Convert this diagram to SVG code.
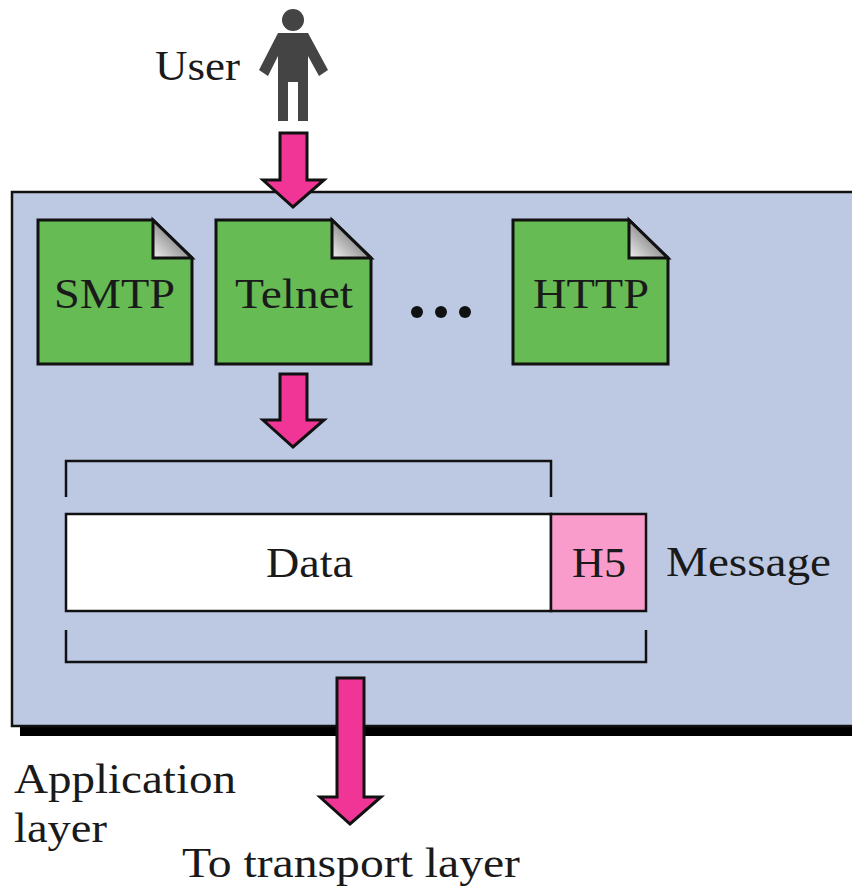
<svg xmlns="http://www.w3.org/2000/svg" width="852" height="890" viewBox="0 0 852 890">
<defs>
<linearGradient id="foldGrad" x1="0" y1="1" x2="1" y2="0"><stop offset="0" stop-color="#f0f0f0"/><stop offset="0.75" stop-color="#6e6e6e"/><stop offset="1" stop-color="#555"/></linearGradient>
</defs>
<style>
text{font-family:"Liberation Serif","DejaVu Serif",serif;font-size:43px;fill:#1a1a1a}
.arrow{fill:#f03597;stroke:#111;stroke-width:3}
.doc{fill:#66bb55;stroke:#111;stroke-width:3}
.fold{fill:url(#foldGrad);stroke:#111;stroke-width:3}
.br{fill:none;stroke:#111;stroke-width:2.5}
</style>
<rect width="852" height="890" fill="#fff"/>
<g id="layer">
<rect x="20" y="200" width="832" height="536" fill="#000"/>
<rect x="12" y="192" width="842" height="534" fill="#bdc9e3" stroke="#111" stroke-width="2.5"/>
</g>
<g id="user">
<circle cx="293" cy="20" r="11" fill="#444"/>
<path d="M278 33H308L328 70L319 76L308 56V121H298V82H288V121H278V56L268 76L259 70Z" fill="#444"/>
<text x="155" y="80" textLength="85" lengthAdjust="spacingAndGlyphs">User</text>
</g>
<g id="smtp"><path class="doc" d="M38 220H153L192 258V364H38Z"/><path class="fold" d="M153 220L192 258H153Z"/><text x="54" y="308" textLength="121" lengthAdjust="spacingAndGlyphs">SMTP</text></g>
<g id="telnet"><path class="doc" d="M216 220H332L371 258V364H216Z"/><path class="fold" d="M332 220L371 258H332Z"/><text x="235" y="308" textLength="118" lengthAdjust="spacingAndGlyphs">Telnet</text></g>
<g id="dots"><circle cx="417" cy="312" r="6" fill="#111"/><circle cx="441" cy="312" r="6" fill="#111"/><circle cx="465" cy="312" r="6" fill="#111"/></g>
<g id="http"><path class="doc" d="M513 220H629L668 258V364H513Z"/><path class="fold" d="M629 220L668 258H629Z"/><text x="533" y="308" textLength="116" lengthAdjust="spacingAndGlyphs">HTTP</text></g>
<g id="data"><rect x="66" y="514" width="485" height="97" fill="#fff" stroke="#111" stroke-width="2.5"/><text x="266" y="577" textLength="87" lengthAdjust="spacingAndGlyphs">Data</text></g>
<g id="h5"><rect x="551" y="514" width="95" height="97" fill="#f99ccb" stroke="#111" stroke-width="2.5"/><text x="572" y="577" textLength="54" lengthAdjust="spacingAndGlyphs">H5</text></g>
<g id="labels">
<text x="666" y="576" textLength="165" lengthAdjust="spacingAndGlyphs">Message</text>
<text x="14" y="793" textLength="222" lengthAdjust="spacingAndGlyphs">Application</text>
<text x="14" y="842" textLength="93" lengthAdjust="spacingAndGlyphs">layer</text>
<text x="182" y="877" textLength="338" lengthAdjust="spacingAndGlyphs">To transport layer</text>
</g>
<g id="connectors">
<path class="arrow" d="M280 133H307V180H324L293 207L263 180H280Z"/>
<path class="arrow" d="M280 374H307V420H324L293 447L263 420H280Z"/>
<path class="arrow" d="M337 678H364V797H381L350 824L320 797H337Z"/>
<path class="br" d="M66 497V461H551V497"/>
<path class="br" d="M66 630V662H646V630"/>
</g>
</svg>
